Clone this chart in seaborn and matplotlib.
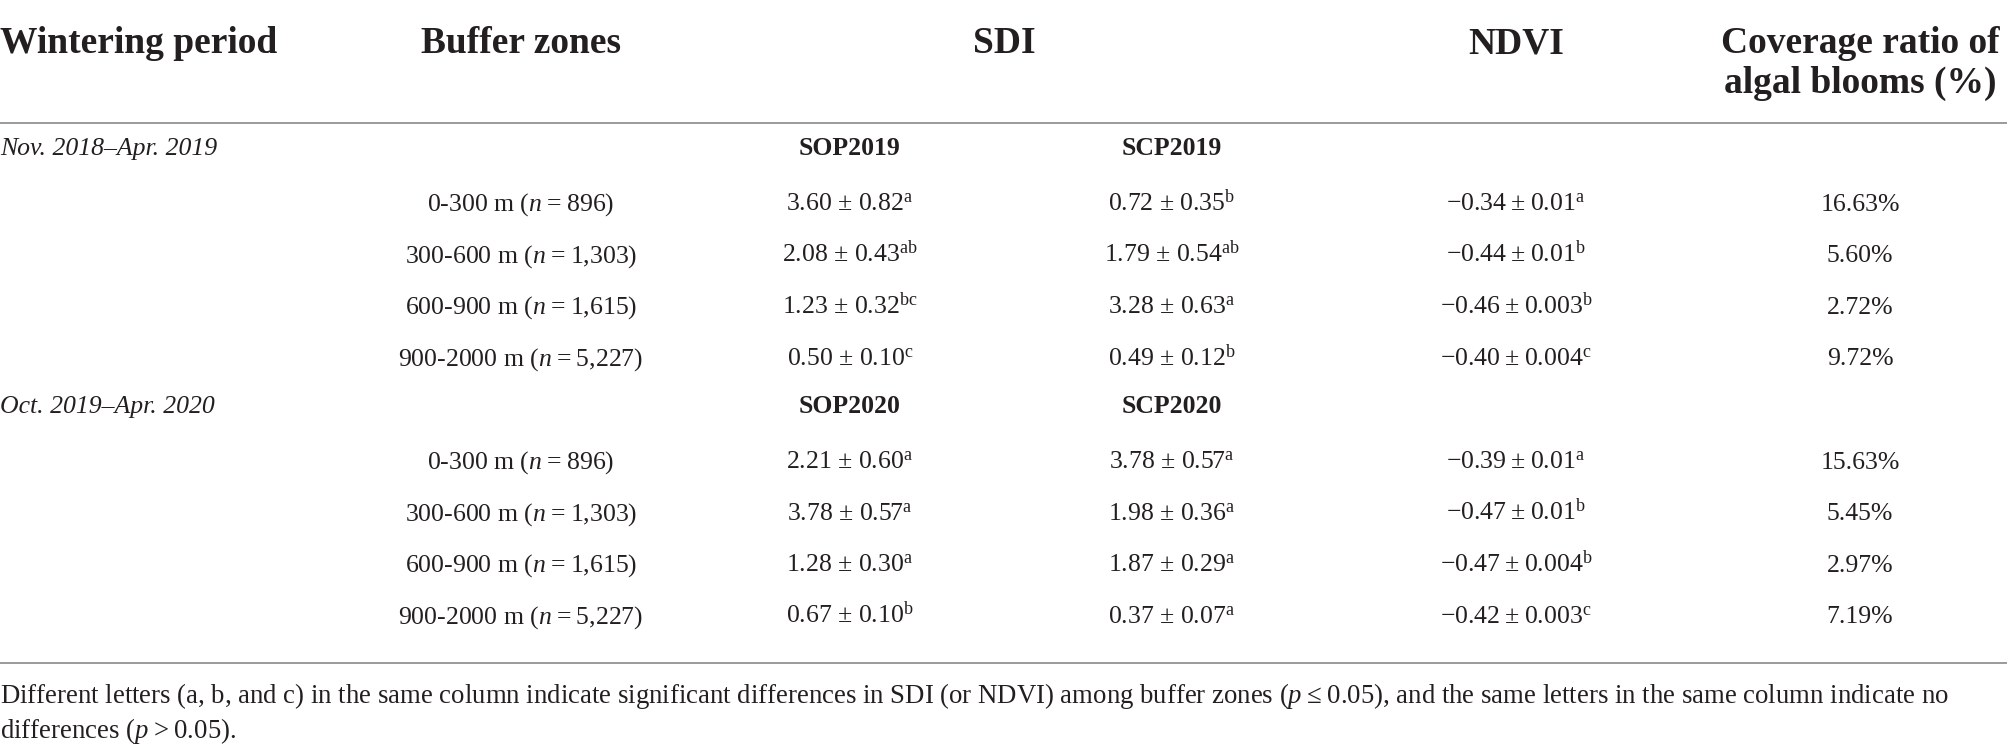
import numpy as np
import pandas as pd
import matplotlib
matplotlib.use("Agg")
import matplotlib.pyplot as plt
import seaborn as sns

# table values
periods = ["Nov. 2018\u2013Apr. 2019", "Oct. 2019\u2013Apr. 2020"]
zones = ["0-300 m", "300-600 m", "600-900 m", "900-2000 m"]
zone_n = ["896", "1,303", "1,615", "5,227"]
sop_labels = ["SOP2019", "SOP2020"]
scp_labels = ["SCP2019", "SCP2020"]

sop_mean = [[3.60, 2.08, 1.23, 0.50], [2.21, 3.78, 1.28, 0.67]]
sop_se = [[0.82, 0.43, 0.32, 0.10], [0.60, 0.57, 0.30, 0.10]]
sop_sig = [["a", "ab", "bc", "c"], ["a", "a", "a", "b"]]

scp_mean = [[0.72, 1.79, 3.28, 0.49], [3.78, 1.98, 1.87, 0.37]]
scp_se = [[0.35, 0.54, 0.63, 0.12], [0.57, 0.36, 0.29, 0.07]]
scp_sig = [["b", "ab", "a", "b"], ["a", "a", "a", "a"]]

ndvi_mean = [[-0.34, -0.44, -0.46, -0.40], [-0.39, -0.47, -0.47, -0.42]]
ndvi_se = [["0.01", "0.01", "0.003", "0.004"], ["0.01", "0.01", "0.004", "0.003"]]
ndvi_sig = [["a", "b", "b", "c"], ["a", "b", "b", "c"]]

coverage = [[16.63, 5.60, 2.72, 9.72], [15.63, 5.45, 2.97, 7.19]]

headers = ["Wintering period", "Buffer zones", "SDI", "NDVI", "Coverage ratio of\nalgal blooms (%)"]
footnote = ["Different letters (a, b, and c) in the same column indicate significant differences in SDI "
            "(or NDVI) among buffer zones ($p$\u2009\u2264\u20090.05), and the same letters in the same column indicate no",
            "differences ($p$\u2009>\u20090.05)."]

sns.set_theme(style="white")
plt.rcParams["font.family"] = ["Liberation Serif", "DejaVu Serif"]
plt.rcParams["mathtext.fontset"] = "custom"
plt.rcParams["mathtext.rm"] = "Liberation Serif"
plt.rcParams["mathtext.it"] = "Liberation Serif:italic"
plt.rcParams["mathtext.bf"] = "Liberation Serif:bold"

ink = "#231f20"
rule = "#9a9a9a"
fs = 18.5
fs_head = 27

# column centres (pixels)
x_zone, x_sop, x_scp, x_ndvi, x_cov = 521, 850, 1172, 1516, 1860

fig = plt.figure(figsize=(20.08, 7.53), dpi=100)
ax = fig.add_axes([0, 0, 1, 1])
ax.set_xlim(0, 2008)
ax.set_ylim(753, 0)
ax.axis("off")

# header
ax.text(0, 53, headers[0], ha="left", va="baseline", fontsize=fs_head, fontweight="bold", color=ink)
for x, h in zip([x_zone, 1004, x_ndvi], headers[1:4]):
    ax.text(x, 53, h, ha="center", va="baseline", fontsize=fs_head, fontweight="bold", color=ink)
for i, line in enumerate(headers[4].split("\n")):
    ax.text(x_cov, 53 + 40 * i, line, ha="center", va="baseline", fontsize=fs_head,
            fontweight="bold", color=ink)

ax.axhline(123, color=rule, lw=1.4)

pitch = 51.6
for p in range(2):
    y0 = 159 + p * 5 * pitch
    ax.text(0, y0 - 4, periods[p], ha="left", va="baseline", fontsize=fs, style="italic", color=ink)
    ax.text(x_sop, y0 - 4, sop_labels[p], ha="center", va="baseline", fontsize=fs, fontweight="bold", color=ink)
    ax.text(x_scp, y0 - 4, scp_labels[p], ha="center", va="baseline", fontsize=fs, fontweight="bold", color=ink)
    for j in range(4):
        y = y0 + (j + 1) * pitch
        ax.text(x_zone, y, f"{zones[j]} ($n$\u2009=\u2009{zone_n[j]})", ha="center", va="baseline",
                fontsize=fs, color=ink)
        ax.text(x_sop, y, f"{sop_mean[p][j]:.2f} \u00b1 {sop_se[p][j]:.2f}$^{{\\mathrm{{{sop_sig[p][j]}}}}}$",
                ha="center", va="baseline", fontsize=fs, color=ink)
        ax.text(x_scp, y, f"{scp_mean[p][j]:.2f} \u00b1 {scp_se[p][j]:.2f}$^{{\\mathrm{{{scp_sig[p][j]}}}}}$",
                ha="center", va="baseline", fontsize=fs, color=ink)
        ax.text(x_ndvi, y,
                f"\u2212{abs(ndvi_mean[p][j]):.2f}\u2009\u00b1\u2009{ndvi_se[p][j]}$^{{\\mathrm{{{ndvi_sig[p][j]}}}}}$",
                ha="center", va="baseline", fontsize=fs, color=ink)
        ax.text(x_cov, y, f"{coverage[p][j]:.2f}%", ha="center", va="baseline", fontsize=fs, color=ink)

ax.axhline(663, color=rule, lw=1.4)

for i, line in enumerate(footnote):
    ax.text(0, 703 + 35 * i, line, ha="left", va="baseline", fontsize=19.3, color=ink)

fig.savefig("out.png", dpi=100, facecolor="white")
